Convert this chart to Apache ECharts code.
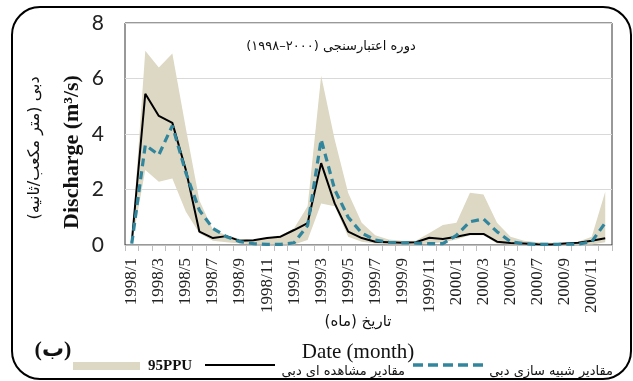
<!DOCTYPE html>
<html>
<head>
<meta charset="utf-8">
<script src="https://cdn.jsdelivr.net/npm/echarts@6/dist/echarts.min.js"></script>
<style>html,body{margin:0;padding:0;background:#fff;}#c{width:633px;height:381px;}</style>
</head>
<body>
<div id="c"></div>
<script>
var months = ['1998/1','1998/2','1998/3','1998/4','1998/5','1998/6','1998/7','1998/8','1998/9','1998/10','1998/11','1998/12',
  '1999/1','1999/2','1999/3','1999/4','1999/5','1999/6','1999/7','1999/8','1999/9','1999/10','1999/11','1999/12',
  '2000/1','2000/2','2000/3','2000/4','2000/5','2000/6','2000/7','2000/8','2000/9','2000/10','2000/11','2000/12'];
var observed = [0.1,5.45,4.65,4.4,2.7,0.48,0.25,0.32,0.15,0.17,0.25,0.3,0.54,0.79,2.95,1.5,0.48,0.25,0.12,0.1,0.08,0.1,0.26,0.22,0.3,0.4,0.4,0.12,0.07,0.05,0.03,0.02,0.05,0.08,0.15,0.24];
var simulated = [0.05,3.6,3.25,4.3,2.6,1.25,0.6,0.3,0.12,0.05,0.02,0.02,0.08,0.7,3.8,2.0,1.0,0.43,0.18,0.1,0.08,0.07,0.05,0.05,0.35,0.84,0.94,0.48,0.12,0.05,0.02,0.02,0.03,0.03,0.12,0.8];
var ppuUpper = [0.1,7.0,6.4,6.9,4.2,1.6,0.55,0.35,0.22,0.18,0.25,0.35,0.6,1.4,6.1,3.8,1.87,0.8,0.35,0.2,0.15,0.15,0.43,0.72,0.8,1.88,1.82,0.8,0.3,0.15,0.1,0.08,0.08,0.12,0.3,1.92];
var ppuLower = [0,2.7,2.28,2.4,1.2,0.42,0.15,0.1,0.05,0.02,0.02,0.02,0.02,0.18,1.5,1.4,0.3,0.12,0.05,0.03,0.02,0.02,0.05,0.1,0.2,0.35,0.35,0.05,0.02,0.01,0.01,0.01,0.01,0.01,0.02,0.1];
var yTicks = {min:0, max:8, interval:2};

var bandDiff = ppuUpper.map(function(u,i){return u - ppuLower[i];});
var TAN = '#ddd8c3', TEAL = '#31859c';
var fa = "'DejaVu Sans'";
function richFa(size){ return {a:{font:size+'px '+fa, fill:'#111'}, b:{font:size+'px '+fa, fill:'#111'}, s:{font:size+'px '+fa, fill:'#111'}}; }

var chart = echarts.init(document.getElementById('c'), null, {renderer:'canvas'});
chart.setOption({
  animation:false,
  grid:{left:125, right:21, top:23, bottom:136, show:true, borderColor:'#333', borderWidth:1, backgroundColor:'transparent'},
  xAxis:{
    type:'category', data:months, boundaryGap:true,
    axisLine:{lineStyle:{color:'#bfbfbf', width:1}},
    axisTick:{show:true, interval:0, length:6, lineStyle:{color:'#bfbfbf'}},
    axisLabel:{interval:1, rotate:90, fontFamily:'Liberation Serif', fontSize:17, color:'#222', margin:13},
    splitLine:{show:false}
  },
  yAxis:{
    type:'value', min:yTicks.min, max:yTicks.max, interval:yTicks.interval,
    axisLine:{show:false}, axisTick:{show:false},
    axisLabel:{fontFamily:'Lato', fontSize:21, color:'#222', margin:21},
    splitLine:{lineStyle:{color:'#d9d9d9', width:1}}
  },
  series:[
    {type:'line', data:ppuLower, stack:'ppu', symbol:'none', lineStyle:{opacity:0}, areaStyle:{opacity:0}, z:1},
    {type:'line', data:bandDiff, stack:'ppu', symbol:'none', lineStyle:{opacity:0}, areaStyle:{color:TAN, opacity:1}, z:1},
    {type:'line', data:observed, symbol:'none', lineStyle:{color:'#000', width:2}, z:3},
    {type:'line', data:simulated, symbol:'none', lineStyle:{color:TEAL, width:3.2, type:[8,5]}, z:4}
  ],
  graphic:[
    {type:'rect', shape:{x:12, y:7, width:619, height:372, r:28}, style:{fill:'none', stroke:'#000', lineWidth:2}, silent:true, z:0},
    {type:'text', x:331, y:47, style:{
      text:'{a|\u202D(\u06F1\u06F9\u06F9\u06F8\u2013\u06F2\u06F0\u06F0\u06F0)\u202C}{s| }{b|دوره اعتبارسنجی}',
      rich:richFa(13), font:'13px '+fa, fill:'#111', textAlign:'center', textVerticalAlign:'middle'}, z:10},
    {type:'text', x:72, y:152, rotation:Math.PI/2, style:{text:'Discharge (m\u00B3/s)', font:'bold 22px "Liberation Serif"', fill:'#111', textAlign:'center', textVerticalAlign:'middle'}, z:10},
    {type:'text', x:35, y:148, rotation:Math.PI/2, style:{
      text:'{a|(متر مکعب/ثانیه)}{s| }{b|دبی}',
      rich:richFa(16), font:'16px '+fa, fill:'#111', textAlign:'center', textVerticalAlign:'middle'}, z:10},
    {type:'text', x:358, y:322, style:{
      text:'{a|(ماه)}{s| }{b|تاریخ}',
      rich:richFa(15), font:'15px '+fa, fill:'#111', textAlign:'center', textVerticalAlign:'middle'}, z:10},
    {type:'text', x:358, y:352, style:{text:'Date (month)', font:'21px "Liberation Serif"', fill:'#111', textAlign:'center', textVerticalAlign:'middle'}, z:10},
    {type:'text', x:53, y:350, style:{text:'(ب)', font:'bold 22px "Liberation Serif", "DejaVu Sans"', fill:'#111', textAlign:'center', textVerticalAlign:'middle'}, z:10},
    {type:'rect', shape:{x:73, y:362, width:67, height:8}, style:{fill:TAN}, z:10},
    {type:'text', x:148, y:366, style:{text:'95PPU', font:'bold 15px "Liberation Serif"', fill:'#111', textAlign:'left', textVerticalAlign:'middle'}, z:10},
    {type:'line', shape:{x1:205, y1:365, x2:275, y2:365}, style:{stroke:'#000', lineWidth:2}, z:10},
    {type:'text', x:405, y:372, style:{text:'مقادیر مشاهده ای دبی', font:'13px '+fa, fill:'#111', textAlign:'right', textVerticalAlign:'middle'}, z:10},
    {type:'line', shape:{x1:413, y1:365, x2:483, y2:365}, style:{stroke:TEAL, lineWidth:3.5, lineDash:[10,5]}, z:10},
    {type:'text', x:613, y:372, style:{text:'مقادیر شبیه سازی دبی', font:'13px '+fa, fill:'#111', textAlign:'right', textVerticalAlign:'middle'}, z:10}
  ]
});
</script>
</body>
</html>
